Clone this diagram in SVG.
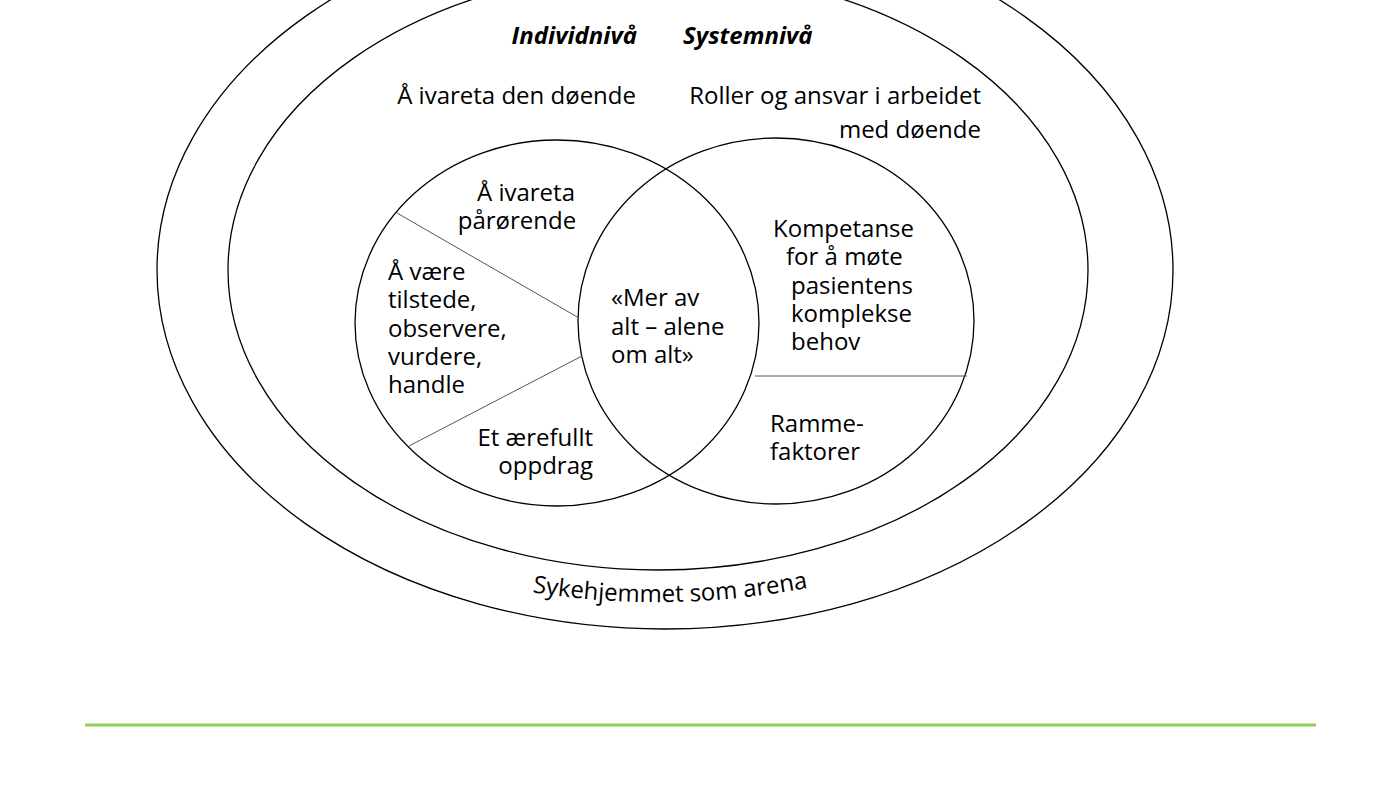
<svg xmlns="http://www.w3.org/2000/svg" width="1400" height="786" viewBox="0 0 1400 786">
<style>
.s{fill:none;stroke:#000;stroke-width:1.3}
.d{stroke:#555;stroke-width:1}
text{font-family:"Open Sans","Liberation Sans",sans-serif;font-size:24px;fill:#000}
.b{font-weight:bold;font-style:italic}
</style>
<defs><path id="arc" d="M 470,580 Q 667,627 870,574"/></defs>
<rect width="1400" height="786" fill="#fff"/>
<g id="outer"><ellipse class="s" cx="665" cy="270" rx="508" ry="359"/>
<text><textPath href="#arc" startOffset="50%" text-anchor="middle">Sykehjemmet som arena</textPath></text></g>
<g id="inner"><ellipse class="s" cx="658" cy="270" rx="430" ry="300"/>
<text class="b" x="637" y="44" text-anchor="end">Individnivå</text>
<text class="b" x="683" y="44">Systemnivå</text>
<text x="636" y="104" text-anchor="end">Å ivareta den døende</text>
<text x="981" y="104" text-anchor="end">Roller og ansvar i arbeidet</text>
<text x="981" y="138" text-anchor="end">med døende</text></g>
<g id="left"><ellipse class="s" cx="557" cy="323" rx="202" ry="183"/>
<text x="526" y="201" text-anchor="middle">Å ivareta</text>
<text x="517" y="229" text-anchor="middle">pårørende</text>
<text x="388" y="280">Å være</text><text x="388" y="308">tilstede,</text><text x="388" y="337">observere,</text><text x="388" y="365">vurdere,</text><text x="388" y="393">handle</text>
<text x="593" y="446" text-anchor="end">Et ærefullt</text>
<text x="593" y="474" text-anchor="end">oppdrag</text></g>
<g id="right"><ellipse class="s" cx="776" cy="321" rx="198" ry="183"/>
<text x="773" y="237">Kompetanse</text><text x="786" y="265">for å møte</text><text x="791" y="294">pasientens</text><text x="791" y="322">komplekse</text><text x="791" y="350">behov</text>
<text x="770" y="432">Ramme-</text><text x="770" y="460">faktorer</text></g>
<g id="center"><text x="611" y="306">«Mer av</text><text x="611" y="335">alt – alene</text><text x="611" y="363">om alt»</text></g>
<g id="connectors">
<line class="d" x1="397" y1="213" x2="579" y2="318"/>
<line class="d" x1="409" y1="446" x2="582" y2="356"/>
<line class="d" x1="755" y1="376" x2="967" y2="376"/>
</g>
<line x1="85" y1="725" x2="1316" y2="725" stroke="#92d050" stroke-width="3"/>
</svg>
